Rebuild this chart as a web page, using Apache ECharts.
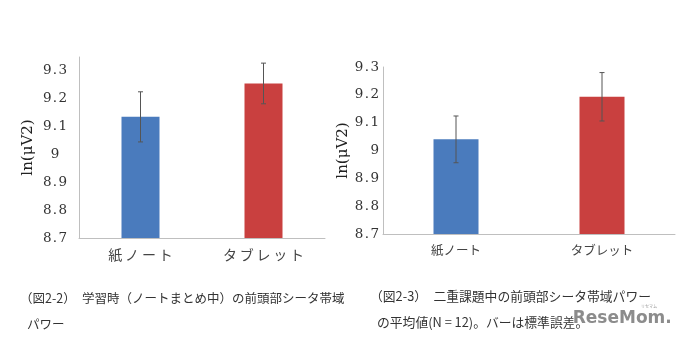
<!DOCTYPE html>
<html><head><meta charset="utf-8">
<script src="https://cdn.jsdelivr.net/npm/echarts@6/dist/echarts.min.js"></script>
<style>html,body{margin:0;padding:0;background:#fff}#c{width:680px;height:341px}</style>
</head><body><div id="c"></div>
<script>
// Data
var categories = ['紙ノート', 'タブレット'];
var leftMeans = [9.135, 9.255];
var leftErr = [0.09, 0.073];
var rightMeans = [9.04, 9.193];
var rightErr = [0.084, 0.087];
var yTicksMin = 8.7, yInterval = 0.1;
var yName = 'ln(μV2)';
var caption1 = ['（図2-2）　学習時（ノートまとめ中）の前頭部シータ帯域', 'パワー'];
var caption2 = ['（図2-3）　二重課題中の前頭部シータ帯域パワー', 'の平均値(N = 12)。バーは標準誤差。'];

var barColors = ['#4a7bbd', '#c9403f'];
var serif = '"DejaVu Serif","Liberation Serif",serif';
var jp = '"Noto Sans CJK JP",sans-serif';

function spaced(s, sp) { return s.split('').join(sp); }
function fmtNum(v) { return String(+(+v).toFixed(2)); }

function errData(means, errs) {
  return means.map(function (m, i) { return [i, m - errs[i], m + errs[i]]; });
}
function renderErr(params, api) {
  var x = api.value(0);
  var lo = api.coord([x, api.value(1)]);
  var hi = api.coord([x, api.value(2)]);
  var cw = 2.5;
  var st = { stroke: '#555', lineWidth: 1 };
  return { type: 'group', children: [
    { type: 'line', shape: { x1: lo[0], y1: lo[1], x2: hi[0], y2: hi[1] }, style: st },
    { type: 'line', shape: { x1: hi[0] - cw, y1: hi[1], x2: hi[0] + cw, y2: hi[1] }, style: st },
    { type: 'line', shape: { x1: lo[0] - cw, y1: lo[1], x2: lo[0] + cw, y2: lo[1] }, style: st }
  ]};
}

function xAx(gi, fs, sp) {
  return {
    type: 'category', gridIndex: gi, data: categories,
    axisLine: { lineStyle: { color: '#bfbfbf', width: 1 } },
    axisTick: { show: false },
    axisLabel: { fontFamily: jp, fontSize: fs, color: '#444', margin: 10,
      formatter: function (v) { return spaced(v, sp); } }
  };
}
function yAx(gi, max, nameGap, labelOpts) {
  return {
    type: 'value', gridIndex: gi, min: yTicksMin, max: max, interval: yInterval,
    name: yName, nameLocation: 'middle', nameRotate: 90, nameGap: nameGap,
    nameTextStyle: { fontFamily: serif, fontSize: 15, color: '#222' },
    axisLine: { show: true, lineStyle: { color: '#bfbfbf', width: 1 } },
    axisTick: { show: false },
    splitLine: { show: false },
    axisLabel: Object.assign({ fontFamily: serif, fontSize: 13.5, color: '#333',
      formatter: function (v) { if (v > 9.31) return ''; return spaced(fmtNum(v), '\u200a'); } }, labelOpts)
  };
}

var chart = echarts.init(document.getElementById('c'));
chart.setOption({
  animation: false,
  grid: [
    { left: 79, right: 355, top: 57, bottom: 103 },
    { left: 383, right: 5, top: 67, bottom: 107 }
  ],
  xAxis: [xAx(0, 14, '\u2009'), xAx(1, 12.5, '')],
  yAxis: [
    yAx(0, 9.35, 43, { align: 'center', margin: 24 }),
    yAx(1, 9.3, 31, { margin: 4 })
  ],
  series: [
    { type: 'bar', xAxisIndex: 0, yAxisIndex: 0, barWidth: 38,
      data: leftMeans.map(function (v, i) { return { value: v, itemStyle: { color: barColors[i] } }; }) },
    { type: 'custom', xAxisIndex: 0, yAxisIndex: 0, renderItem: renderErr, data: errData(leftMeans, leftErr), z: 5 },
    { type: 'bar', xAxisIndex: 1, yAxisIndex: 1, barWidth: 45,
      data: rightMeans.map(function (v, i) { return { value: v, itemStyle: { color: barColors[i] } }; }) },
    { type: 'custom', xAxisIndex: 1, yAxisIndex: 1, renderItem: renderErr, data: errData(rightMeans, rightErr), z: 5 }
  ],
  graphic: [
    { type: 'text', left: 20, top: 292, style: { text: caption1[0], font: '12.5px ' + jp, fill: '#333' } },
    { type: 'text', left: 27, top: 318, style: { text: caption1[1], font: '12.5px ' + jp, fill: '#333' } },
    { type: 'text', left: 370, top: 290, style: { text: caption2[0], font: '12.8px ' + jp, fill: '#333' } },
    { type: 'text', left: 377, top: 316, style: { text: caption2[1], font: '12.8px ' + jp, fill: '#333' } },
    { type: 'text', left: 572, top: 309, z: 10, style: { text: 'ReseMom.', font: 'bold 17px "DejaVu Sans",sans-serif', fill: '#8c8c8c', stroke: '#fff', lineWidth: 1.5 } },
    { type: 'text', left: 641, top: 304, z: 10, style: { text: 'リセマム', font: '4px ' + jp, fill: '#999' } }
  ]
});
</script>
</body></html>
